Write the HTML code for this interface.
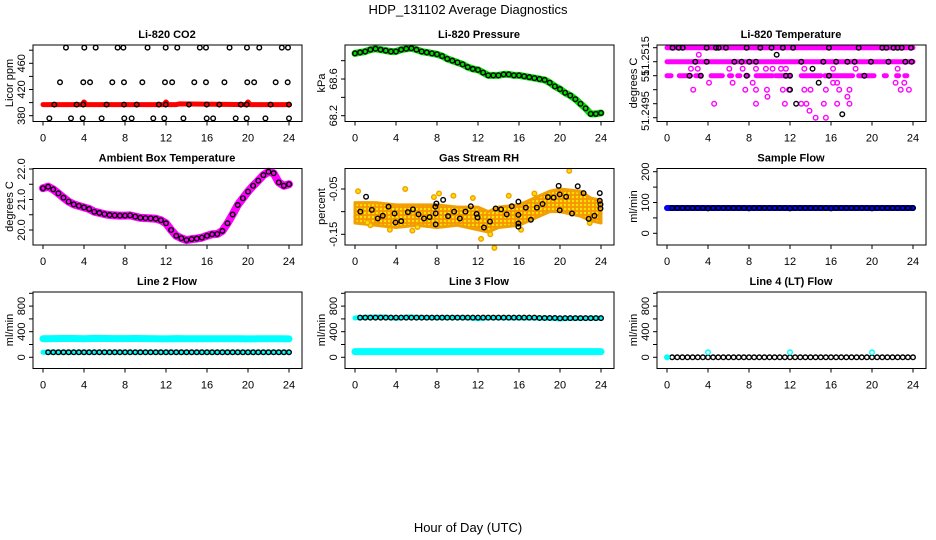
<!DOCTYPE html>
<html><head><meta charset="utf-8"><style>
html,body{margin:0;padding:0;background:#fff;}
svg{display:block;font-family:"Liberation Sans",sans-serif;}
</style></head><body>
<svg id="chart" width="936" height="540" viewBox="0 0 936 540" xmlns="http://www.w3.org/2000/svg">
<rect width="936" height="540" fill="#fff"/>
<text x="468" y="14" font-size="13" text-anchor="middle">HDP_131102  Average Diagnostics</text>
<text x="468" y="532" font-size="13" text-anchor="middle">Hour of Day (UTC)</text>
</svg>
<script>
// ---- data ----
var co2Red_h=[0,3.8,4,4.2,11.8,12,12.2,13,13.3,19.8,20,20.2,24];
var co2Red_v=[397,397,401,397,397,401,397,397,398,397,401,397,397];
var co2Top_h=[2.24,4.03,5.14,7.28,7.84,10.2,11.97,13.1,15.3,15.9,18.2,19.9,21.1,23.3,23.9];
var co2Mid_h=[1.66,3.93,4.59,6.76,7.9,9.69,11.9,12.6,14.76,15.9,17.7,19.93,20.6,22.7,23.87];
var co2Low_h=[1.1,3.28,3.93,6.2,7.9,9.14,11.3,11.97,14.24,15.97,17.2,19.3,19.87,22.2,24];
var co2Bot_h=[0.62,2.73,3.87,5.72,7.93,8.65,10.76,11.83,13.7,15.97,16.6,18.8,19.87,21.7,24];
var co2Levels=[484,431,397,376];

var presHours=[0,0.5,1,1.5,2,2.5,3,3.5,4,4.5,5,5.5,6,6.5,7,7.5,8,8.5,9,9.5,10,10.5,11,11.5,12,12.5,13,13.5,14,14.5,15,15.5,16,16.5,17,17.5,18,18.5,19,19.5,20,20.5,21,21.5,22,22.5,23,23.5,24];
var presVals=[68.88,68.89,68.9,68.92,68.93,68.92,68.91,68.9,68.9,68.92,68.93,68.935,68.92,68.9,68.89,68.88,68.87,68.85,68.82,68.8,68.78,68.76,68.73,68.71,68.7,68.67,68.64,68.64,68.64,68.65,68.65,68.64,68.64,68.63,68.62,68.61,68.6,68.59,68.56,68.52,68.49,68.45,68.42,68.38,68.33,68.28,68.22,68.22,68.23];

var tempStripLevels=[0,2,4,4,4,4,4,4,4,4,4,4,4,4,4,4,4];
var tempStripStart=[0,0,0,1.2,2.8,4.3,6.1,6.9,7.7,8.7,10.6,13.1,15.4,18.7,21.2,22.4,23.2];
var tempStripEnd=[24,24,0.4,2.3,3.3,5.4,6.3,7.1,7.9,10.3,12,15,18.1,20.2,21.4,22.6,23.4];
var tempMag_h=[2.34,3.0,6.08,7.38,8.68,9.65,10.3,11.12,11.6,13.4,16.2,18.4,22.5, 4.1,6.4,8.36,16.2,16.6,22.3,23.15, 2.56,7.64,8.68,9.75,11.3,11.9,13.4,14,15.5,16.8,17.8,22.8,23.6, 9.8,17.6, 4.6,8.68,11.5,13.1,13.6,15.3,16.6,17.8, 13.9, 14.5,15.5, 3.1];
var tempMag_k=[3,3,3,3,3,3,3,3,3,3,3,3,3, 5,5,5,5,5,5,5, 6,6,6,6,6,6,6,6,6,6,6,6,6, 7,7, 8,8,8,8,8,8,8,8, 9, 10,10, 1];
var tempBlk_h=[0.55,1.14,1.53,3.87,4.78,5.04,5.75,7.77,9.1,10.2,11.3,12.3,15.8,18.7,21,21.4,22.1,22.5,22.9,23.8, 2.76,3.87,6.57,7.28,8.03,8.68,13.1,15.25,16.5,17.6,18.3,19.9,21.6,23.25,23.87, 2.2,3.3,7.77,11.6,12,15.8,19.25, 14.2,10.7,14.8,12,12.6,17.1];
var tempBlk_k=[0,0,0,0,0,0,0,0,0,0,0,0,0,0,0,0,0,0,0,0, 2,2,2,2,2,2,2,2,2,2,2,2,2,2,2, 4,4,4,4,4,4,4, 3,1,5,6,8,9.5];

var ambHours=presHours;
var ambVals=[21.37,21.42,21.33,21.2,21.06,20.93,20.84,20.79,20.74,20.69,20.6,20.56,20.52,20.49,20.48,20.47,20.47,20.48,20.44,20.4,20.39,20.38,20.37,20.32,20.22,20.0,19.81,19.73,19.67,19.7,19.72,19.75,19.81,19.86,19.87,19.97,20.22,20.51,20.82,21.04,21.26,21.45,21.62,21.8,21.91,21.86,21.56,21.45,21.5];

var rhBandHours=[0,2,4,6,8,10,12,13,14,16,17,18,19,20,22,23,24];
var rhBandLow=[-0.125,-0.13,-0.135,-0.13,-0.135,-0.13,-0.14,-0.145,-0.135,-0.13,-0.12,-0.11,-0.1,-0.1,-0.11,-0.12,-0.125];
var rhBandHigh=[-0.08,-0.08,-0.085,-0.085,-0.085,-0.09,-0.09,-0.1,-0.09,-0.085,-0.075,-0.065,-0.055,-0.05,-0.055,-0.07,-0.075];
var rhOut_h=[0.3,1.5,1.2,4.9,6.1,7.7,8.2,9.6,11.5,12.3,13.2,13.6,15.0,16.2,17.5,20.9,22.9,3.4,5.6];
var rhOut_v=[-0.055,-0.13,-0.124,-0.05,-0.134,-0.068,-0.06,-0.065,-0.07,-0.16,-0.15,-0.18,-0.065,-0.14,-0.06,-0.01,-0.125,-0.14,-0.142];
var rhBlk_h=[0.52,1.08,1.64,2.22,2.71,3.27,3.86,3.95,4.51,5.16,5.65,6.2,6.73,7.28,7.84,7.94,7.87,7.87,8.6,9.08,9.67,10.23,10.78,11.3,11.86,11.96,12.58,13.17,13.72,14.25,14.8,15.3,15.94,15.94,15.94,15.94,16.67,17.16,17.74,18.3,18.82,19.38,19.87,19.97,19.97,20.6,21.17,21.73,22.3,22.8,23.36,23.88,23.88,23.95,23.95];
var rhBlk_v=[-0.100,-0.067,-0.096,-0.115,-0.109,-0.089,-0.104,-0.124,-0.121,-0.101,-0.095,-0.106,-0.115,-0.112,-0.089,-0.082,-0.104,-0.128,-0.074,-0.110,-0.100,-0.115,-0.100,-0.088,-0.105,-0.113,-0.135,-0.122,-0.093,-0.095,-0.106,-0.088,-0.078,-0.107,-0.126,-0.133,-0.091,-0.118,-0.091,-0.083,-0.068,-0.069,-0.043,-0.097,-0.062,-0.067,-0.104,-0.044,-0.059,-0.116,-0.109,-0.059,-0.076,-0.084,-0.093];

var halfHours=[0.5,1,1.5,2,2.5,3,3.5,4,4.5,5,5.5,6,6.5,7,7.5,8,8.5,9,9.5,10,10.5,11,11.5,12,12.5,13,13.5,14,14.5,15,15.5,16,16.5,17,17.5,18,18.5,19,19.5,20,20.5,21,21.5,22,22.5,23,23.5,24];
var hourly=[0,1,2,3,4,5,6,7,8,9,10,11,12,13,14,15,16,17,18,19,20,21,22,23,24];
var sampleBlue=[82,82,82,82,82,82,82,82,82,82,82,82,82,82,82,82,82,82,82,82,82,82,82,82,82];
var sampleBlk=[82,82,82,82,82,82,82,81,82,82,82,82,82,82,82,81,82,82,82,82,82,82,82,81,82,82,82,82,82,82,82,81,82,82,82,82,82,82,82,81,82,82,82,82,82,82,82,82];
var line2Cyan=[290,292,294,293,290,295,293,292,291,293,292,290,288,291,290,290,290,289,290,290,288,289,290,289,288];
var line2Blk=[78,78,78,78,78,78,78,78,78,78,78,78,78,78,78,78,78,78,78,78,78,78,78,78,78,78,78,78,78,78,78,78,78,78,78,78,78,78,78,78,78,78,78,78,78,78,78,78];
var line3Cyan=[88,88,88,88,88,88,88,88,88,88,88,88,88,88,88,88,88,88,88,88,88,88,88,88,88];
var line3CyanHi=[615,625,630,630,610,630,625,620,620,620,620,618,605,618,618,616,615,615,612,610,600,608,610,610,612];
var line3Blk=[620,620,620,620,620,620,620,620,620,620,620,620,620,620,620,620,620,620,620,620,620,620,620,620,620,620,620,620,620,620,620,620,620,620,620,615,615,615,615,610,612,612,612,612,612,612,612,612];
var line4Blk=[0,0,0,0,0,0,0,0,0,0,0,0,0,0,0,0,0,0,0,0,0,0,0,0,0,0,0,0,0,0,0,0,0,0,0,0,0,0,0,0,0,0,0,0,0,0,0,0];
var line4Cyan_h=[0,4,12,20];
var line4Cyan_v=[0,78,78,78];

// ---- drawing ----
var svg=document.getElementById('chart');
var NS='http://www.w3.org/2000/svg';
function mk(tag,attrs,parent){var e=document.createElementNS(NS,tag);for(var k in attrs)e.setAttribute(k,attrs[k]);(parent||svg).appendChild(e);return e;}
var xTicks=[0,4,8,12,16,20,24];

function panel(col,row,title,ytitle,yRef,yRefPx,pxPer,ticks,labels,name){
  var ox=312*col, oy=123.5*row;
  var P={};
  P.g=mk('g',{});
  
  
  P.x=function(h){return 43+ox+h*10.25;};
  P.y=function(v){return oy+yRefPx-(v-yRef)*pxPer;};
  P.left=33+ox;P.right=302+ox;P.top=45+oy;P.bottom=121.5+oy;
  var t=mk('text',{x:167+ox,y:38+oy,'font-size':11,'font-weight':'bold','text-anchor':'middle'},P.g);
  t.textContent=title;
  
  
  // x axis
  var xa=mk('g',{},P.g);
  
  
  mk('line',{x1:P.x(0),x2:P.x(24),y1:P.bottom,y2:P.bottom,stroke:'#000'},xa);
  xTicks.forEach(function(h){
    mk('line',{x1:P.x(h),x2:P.x(h),y1:P.bottom,y2:P.bottom+4,stroke:'#000'},xa);
    var l=mk('text',{x:P.x(h),y:P.bottom+20,'font-size':11,'text-anchor':'middle'},xa);
    l.textContent=h;
    
    
  });
  var ya=mk('g',{},P.g);
  
  
  ticks.forEach(function(v){
    mk('line',{x1:P.left-4,x2:P.left,y1:P.y(v),y2:P.y(v),stroke:'#000'},ya);
  });
  labels.forEach(function(lb){
    var yy=lb.px!==undefined?lb.px+oy:P.y(lb.v);
    var l=mk('text',{x:0,y:0,'font-size':11,'text-anchor':'middle',transform:'translate('+(P.left-8)+','+yy+') rotate(-90)'},ya);
    l.textContent=lb.t;
    
    
  });
  var yt=mk('text',{x:0,y:0,'font-size':11,'text-anchor':'middle',transform:'translate('+(13+ox)+','+(83+oy)+') rotate(-90)'},P.g);
  yt.textContent=ytitle;
  
  
  P.marks=mk('g',{},P.g);
  
  
  var b=mk('rect',{x:P.left,y:P.top,width:P.right-P.left,height:P.bottom-P.top,fill:'none',stroke:'#000'},P.g);
  
  
  return P;
}
function poly(P,hs,vs,color,w,name){
  var pts=hs.map(function(h,i){return P.x(h)+','+P.y(vs[i]);}).join(' ');
  var e=mk('polyline',{points:pts,fill:'none',stroke:color,'stroke-width':w,'stroke-linejoin':'round','stroke-linecap':'round'},P.marks);
  
  
}
function circ(P,h,v,color,name,fill){
  var e=mk('circle',{cx:P.x(h),cy:P.y(v),r:2.3,fill:fill||'none',stroke:color,'stroke-width':1.4},P.marks);
  
  
}
function L(t,v){return {t:t,v:v};}

// CO2
var p1=panel(0,0,'Li-820 CO2','Licor ppm',380,115.7,0.655,[380,400,420,440,460,480],[L('380',380),L('420',420),L('460',460)],'panel-co2');
poly(p1,co2Red_h,co2Red_v,'#f00',5,'co2-red-series');
[co2Top_h,co2Mid_h,co2Low_h,co2Bot_h].forEach(function(arr,i){arr.forEach(function(h){circ(p1,h,co2Levels[i],'#000','co2-point');});});

// Pressure
var p2=panel(1,0,'Li-820 Pressure','kPa',68.2,115.7,91.7,[68.2,68.4,68.6,68.8],[L('68.2',68.2),L('68.6',68.6)],'panel-pressure');
poly(p2,presHours,presVals,'#0d0',7,'pressure-green-series');
presHours.forEach(function(h,i){circ(p2,h,presVals[i],'#000','pressure-point');});

// Temperature (discrete levels, k index)
var p3=panel(2,0,'Li-820 Temperature','degrees C',0,47.7,-7,[0,2,4,6,8,10],[{t:'51.2515',px:56},{t:'51',px:76},{t:'51.2495',px:111}],'panel-li820-temperature');
tempStripLevels.forEach(function(k,i){poly(p3,[tempStripStart[i],tempStripEnd[i]],[k,k],'#f0f',5,'temp-strip');});
tempMag_h.forEach(function(h,i){circ(p3,h,tempMag_k[i],'#f0f','temp-magenta-point');});
tempBlk_h.forEach(function(h,i){circ(p3,h,tempBlk_k[i],'#000','temp-black-point');});

// Ambient
var p4=panel(0,1,'Ambient Box Temperature','degrees C',20,230-123.5,30.5,[20,20.5,21,21.5,22],[L('20.0',20),L('21.0',21),L('22.0',22)],'panel-ambient-temperature');
poly(p4,ambHours,ambVals,'#f0f',8,'ambient-magenta-series');
ambHours.forEach(function(h,i){circ(p4,h,ambVals[i],'#000','ambient-point');});

// Gas RH
var p5=panel(1,1,'Gas Stream RH','percent',-0.05,189-123.5,453,[-0.05,-0.1,-0.15],[L('-0.05',-0.05),L('-0.15',-0.15)],'panel-gas-rh');
var defs=mk('defs',{});
var pat=mk('pattern',{id:'rhpat',width:4,height:4,patternUnits:'userSpaceOnUse'},defs);
mk('rect',{width:4,height:4,fill:'#f0a000'},pat);
mk('rect',{x:0,y:0,width:2,height:2,fill:'#ffe000'},pat);
mk('rect',{x:2,y:2,width:2,height:2,fill:'#ff9000'},pat);
var bandPts=rhBandHours.map(function(h,i){return p5.x(h)+','+p5.y(rhBandHigh[i]);}).concat(rhBandHours.slice().reverse().map(function(h,i){var j=rhBandHours.length-1-i;return p5.x(h)+','+p5.y(rhBandLow[j]);})).join(' ');
var band=mk('polygon',{points:bandPts,fill:'url(#rhpat)',stroke:'#f0a000','stroke-width':3,'stroke-linejoin':'round'},p5.marks);


rhOut_h.forEach(function(h,i){circ(p5,h,rhOut_v[i],'#f0a000','rh-outlier-point','#ffe000');});
rhBlk_h.forEach(function(h,i){circ(p5,h,rhBlk_v[i],'#000','rh-point');});

// Sample flow
var p6=panel(2,1,'Sample Flow','ml/min',0,233.3-123.5,0.308,[0,50,100,150,200],[L('0',0),L('100',100),L('200',200)],'panel-sample-flow');
poly(p6,hourly,sampleBlue,'#00f',6,'sample-blue-series');
halfHours.forEach(function(h,i){circ(p6,h,sampleBlk[i],'#000','sample-point');});

// Flows
var flowTicks=[0,200,400,600,800,1000];
var flowLabels=[L('0',0),L('400',400),L('800',800)];
var p7=panel(0,2,'Line 2 Flow','ml/min',0,357.3-247,0.064,flowTicks,flowLabels,'panel-line2-flow');
poly(p7,hourly,line2Cyan,'#0ff',7,'line2-cyan-series');
poly(p7,hourly,line2Blk.filter(function(_,i){return i%2==1;}).concat([78]).slice(0,25),'#0ff',5,'line2-cyan-low');
halfHours.forEach(function(h,i){circ(p7,h,line2Blk[i],'#000','line2-point');});

var p8=panel(1,2,'Line 3 Flow','ml/min',0,357.3-247,0.064,flowTicks,flowLabels,'panel-line3-flow');
poly(p8,hourly,line3Cyan,'#0ff',7,'line3-cyan-series');
poly(p8,hourly,line3CyanHi,'#0ff',5,'line3-cyan-high');
halfHours.forEach(function(h,i){circ(p8,h,line3Blk[i],'#000','line3-point');});

var p9=panel(2,2,'Line 4 (LT) Flow','ml/min',0,357.3-247,0.064,flowTicks,flowLabels,'panel-line4-flow');
halfHours.forEach(function(h,i){circ(p9,h,line4Blk[i],'#000','line4-point');});
line4Cyan_h.forEach(function(h,i){circ(p9,h,line4Cyan_v[i],'#0ff','line4-cyan-point',i==0?'#0ff':'none');});
</script>
</body></html>
